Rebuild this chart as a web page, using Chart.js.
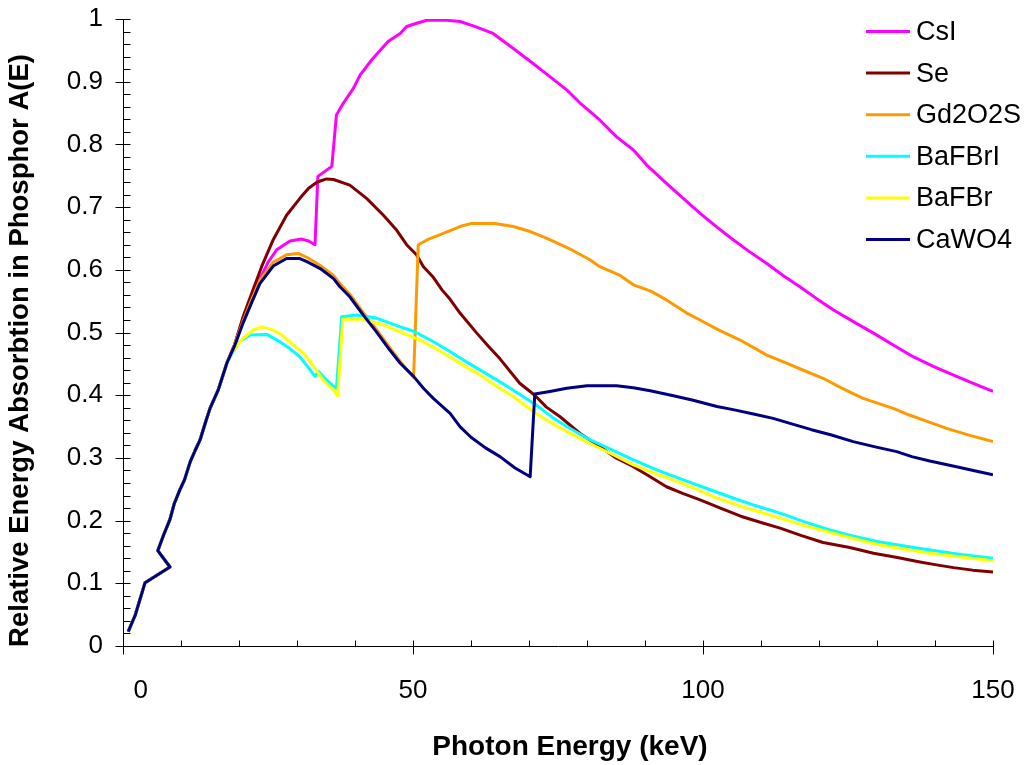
<!DOCTYPE html>
<html>
<head>
<meta charset="utf-8">
<script src="https://cdn.jsdelivr.net/npm/chart.js@4"></script>
<style>
  html, body { margin: 0; padding: 0; background: #ffffff; }
  #wrap { width: 1028px; height: 765px; }
</style>
</head>
<body>
<div id="wrap"><canvas id="chart" width="1028" height="765"></canvas></div>
<script>
// Relative energy absorption A(E) of detector phosphors vs photon energy (keV)
const seriesNames  = ['CsI', 'Se', 'Gd2O2S', 'BaFBrI', 'BaFBr', 'CaWO4'];
const seriesColors = ['#ff00ff', '#800000', '#ff9900', '#00ffff', '#ffff00', '#000080'];
const xTickValues  = [0, 50, 100, 150];
const xAxisTitle   = 'Photon Energy (keV)';
const yAxisTitle   = 'Relative Energy Absorbtion in Phosphor A(E)';

// Low-energy part shared by all phosphors
const lowEnergy = [[0.9,0.023],[2.1,0.049],[3.8,0.101],[8.1,0.126],[6.0,0.152],[7.0,0.177],[8.1,0.202],
  [8.8,0.226],[9.8,0.249],[10.6,0.265],[11.6,0.294],[12.4,0.311],[13.3,0.329],[14.2,0.356],[15.0,0.379],
  [16.4,0.408],[17.9,0.451]];

const csI = [[19.3,0.482],[20.7,0.522],[22.2,0.555],[23.6,0.585],[25.0,0.612],[26.5,0.632],[28.8,0.646],
  [30.8,0.649],[32.0,0.646],[33.1,0.640],[33.6,0.749],[36.0,0.765],[36.8,0.847],[38.0,0.866],[39.7,0.889],
  [40.9,0.911],[42.9,0.935],[45.7,0.964],[47.8,0.977],[48.9,0.988],[50.9,0.994],[52.4,0.998],[55.8,0.998],
  [58.1,0.996],[60.4,0.989],[63.8,0.977],[67.3,0.953],[70.7,0.929],[73.6,0.908],[76.5,0.887],[78.8,0.866],
  [82.2,0.839],[85.1,0.812],[88.0,0.791],[90.3,0.767],[93.7,0.738],[96.6,0.714],[99.5,0.690],[102.4,0.668],
  [105.2,0.648],[108.0,0.629],[111.0,0.610],[113.8,0.591],[116.7,0.573],[119.6,0.554],[122.5,0.536],
  [126.0,0.517],[129.4,0.499],[132.8,0.480],[136.3,0.461],[139.7,0.446],[143.2,0.432],[146.6,0.419],[150,0.406]];

const se = [[19.3,0.482],[20.7,0.525],[22.5,0.570],[23.9,0.605],[25.9,0.648],[28.2,0.687],[30.5,0.714],
  [32.0,0.730],[33.5,0.740],[35.1,0.745],[36.3,0.744],[39.1,0.735],[42.0,0.714],[44.9,0.687],[47.2,0.663],
  [48.9,0.640],[50.6,0.624],[51.8,0.605],[53.5,0.588],[55.0,0.568],[56.4,0.553],[58.1,0.531],[61.0,0.499],
  [63.0,0.478],[65.0,0.458],[68.4,0.419],[71.0,0.400],[73.0,0.381],[75.3,0.366],[78.8,0.339],[82.2,0.318],
  [85.0,0.300],[88.0,0.286],[90.9,0.270],[93.7,0.254],[96.6,0.243],[99.5,0.233],[103.0,0.220],[106.5,0.207],
  [110.0,0.197],[113.3,0.188],[117.0,0.176],[120.7,0.165],[125.3,0.157],[129.4,0.148],[133.5,0.141],
  [137.4,0.134],[140.5,0.129],[143.2,0.125],[146.5,0.121],[150,0.118]];

const gd2o2s = [[19.3,0.482],[20.7,0.518],[22.2,0.553],[23.6,0.583],[25.9,0.612],[28.2,0.624],[30.2,0.626],
  [31.7,0.620],[34.0,0.607],[36.3,0.591],[37.4,0.578],[39.1,0.561],[41.4,0.532],[43.7,0.505],[46.0,0.476],
  [47.8,0.454],[50.1,0.428],[50.9,0.640],[52.5,0.648],[54.7,0.656],[58.1,0.669],[60.1,0.674],[64.1,0.674],
  [67.3,0.669],[70.2,0.661],[73.1,0.650],[77.3,0.632],[80.5,0.616],[82.2,0.605],[85.7,0.591],[88.0,0.576],
  [91.0,0.566],[93.7,0.552],[97.2,0.531],[99.5,0.520],[102.5,0.505],[106.4,0.488],[111.0,0.464],[114.4,0.451],
  [117.0,0.441],[120.7,0.427],[124.0,0.411],[127.6,0.395],[132.8,0.379],[135.7,0.368],[139.0,0.357],
  [142.0,0.347],[146.0,0.336],[150,0.326]];

const baFBrI = [[18.9,0.468],[20.2,0.486],[21.9,0.496],[24.8,0.497],[27.1,0.485],[28.8,0.474],[30.5,0.461],
  [31.8,0.446],[33.1,0.430],[33.7,0.438],[35.1,0.424],[36.8,0.411],[37.7,0.525],[40.3,0.528],[43.7,0.523],
  [47.8,0.509],[50.1,0.502],[53.0,0.488],[55.8,0.473],[58.7,0.456],[61.6,0.440],[64.5,0.424],[67.3,0.408],
  [71.3,0.384],[74.0,0.365],[76.5,0.350],[80.5,0.329],[84.5,0.312],[88.0,0.297],[92.0,0.281],[96.6,0.265],
  [101.0,0.250],[105.2,0.236],[109.0,0.224],[113.3,0.212],[117.5,0.198],[121.9,0.185],[126.0,0.175],
  [130.5,0.166],[135.0,0.159],[139.1,0.153],[144.5,0.146],[150,0.140]];

const baFBr = [[18.9,0.470],[20.7,0.491],[22.5,0.504],[23.9,0.509],[25.6,0.505],[27.4,0.496],[29.4,0.480],
  [31.1,0.467],[32.8,0.447],[34.5,0.424],[36.3,0.408],[37.0,0.399],[37.9,0.521],[41.4,0.521],[44.9,0.512],
  [47.8,0.501],[51.2,0.488],[53.8,0.475],[56.4,0.461],[59.0,0.446],[61.6,0.432],[64.5,0.414],[67.3,0.398],
  [70.7,0.374],[74.0,0.355],[76.5,0.342],[80.5,0.323],[84.5,0.305],[88.0,0.289],[92.0,0.274],[96.6,0.259],
  [102.4,0.236],[107.5,0.220],[113.3,0.204],[117.5,0.192],[121.9,0.181],[126.0,0.171],[130.5,0.161],
  [135.0,0.154],[139.1,0.148],[144.5,0.142],[150,0.136]];

const caWO4 = [[19.3,0.480],[20.7,0.515],[22.2,0.548],[23.6,0.578],[25.9,0.606],[28.2,0.618],[30.5,0.618],
  [31.7,0.613],[34.0,0.602],[36.3,0.586],[37.4,0.573],[39.1,0.557],[41.4,0.528],[43.7,0.501],[46.0,0.472],
  [47.8,0.451],[50.1,0.430],[51.8,0.411],[53.5,0.395],[56.4,0.371],[58.1,0.350],[60.0,0.333],[62.5,0.316],
  [65.0,0.302],[67.6,0.284],[70.2,0.270],[71.0,0.402],[73.6,0.406],[76.5,0.411],[80.0,0.415],[85.1,0.415],
  [88.0,0.412],[90.9,0.407],[94.9,0.399],[98.3,0.392],[102.4,0.382],[105.2,0.377],[108.7,0.370],[112.1,0.363],
  [115.0,0.355],[118.7,0.345],[122.0,0.337],[125.9,0.326],[129.5,0.318],[133.4,0.310],[136.0,0.302],
  [139.1,0.295],[143.7,0.286],[147.0,0.279],[150,0.273]];

const seriesData = [csI, se, gd2o2s, baFBrI, baFBr, caWO4];

const FONT = '"Liberation Sans", Arial, sans-serif';

function toPoints(arr) {
  return lowEnergy.concat(arr).map(p => ({ x: p[0], y: p[1] }));
}

const datasets = seriesNames.map((name, i) => ({
  label: name,
  data: toPoints(seriesData[i]),
  borderColor: seriesColors[i],
  backgroundColor: seriesColors[i],
  borderWidth: 3,
  pointRadius: 0,
  tension: 0,
  fill: false,
  borderJoinStyle: 'round',
  order: seriesNames.length - i   // later series drawn on top
}));

// Tick marks, x tick labels, axis titles and the legend, placed through the scales
const axisDecor = {
  id: 'axisDecor',
  afterDraw(chart) {
    const ctx = chart.ctx;
    const xs = chart.scales.x, ys = chart.scales.y;
    const x0 = Math.round(xs.getPixelForValue(0)) + 0.5;
    const y0 = Math.round(ys.getPixelForValue(0)) + 0.5;
    ctx.save();
    ctx.strokeStyle = '#000';
    ctx.lineWidth = 1;
    ctx.beginPath();
    for (let i = 0; i <= 50; i++) {
      const py = Math.round(ys.getPixelForValue(i / 50)) + 0.5;
      const major = i % 5 === 0;
      ctx.moveTo(major ? x0 - 8 : x0, py);
      ctx.lineTo(x0 + 7, py);
    }
    for (let v = 0; v <= 150; v += 10) {
      const px = Math.round(xs.getPixelForValue(v)) + 0.5;
      const major = v % 50 === 0;
      ctx.moveTo(px, y0 - 6);
      ctx.lineTo(px, major ? y0 + 8 : y0);
    }
    ctx.stroke();

    // x tick labels (first label kept clear of the vertical axis)
    ctx.fillStyle = '#000';
    ctx.font = '26px ' + FONT;
    ctx.textAlign = 'center';
    ctx.textBaseline = 'top';
    xs.ticks.forEach(t => {
      const txt = String(t.value);
      const w = ctx.measureText(txt).width;
      let px = xs.getPixelForValue(t.value);
      if (px - w / 2 < x0 + 10) px = x0 + 10 + w / 2;
      ctx.fillText(txt, px, y0 + 31);
    });

    // axis titles
    ctx.textBaseline = 'middle';
    ctx.font = 'bold 28px ' + FONT;
    ctx.fillText(xAxisTitle, (xs.left + xs.right) / 2 + 12, 747);
    ctx.save();
    ctx.translate(20, (ys.top + ys.bottom) / 2 + 18);
    ctx.rotate(-Math.PI / 2);
    ctx.font = 'bold 27.5px ' + FONT;
    ctx.fillText(yAxisTitle, 0, 0);
    ctx.restore();

    // legend
    ctx.font = '27px ' + FONT;
    ctx.textAlign = 'left';
    ctx.textBaseline = 'alphabetic';
    chart.data.datasets.forEach((ds, i) => {
      const cy = 31.5 + i * 41.6;
      ctx.strokeStyle = ds.borderColor;
      ctx.lineWidth = 3;
      ctx.beginPath();
      ctx.moveTo(866, cy);
      ctx.lineTo(910, cy);
      ctx.stroke();
      ctx.fillStyle = '#000';
      ctx.fillText(ds.label, 916, cy + 8.5);
    });
    ctx.restore();
  }
};

new Chart(document.getElementById('chart'), {
  type: 'line',
  data: { datasets },
  options: {
    responsive: false,
    animation: false,
    devicePixelRatio: 1,
    layout: { padding: { left: 0, top: 19, right: 35, bottom: 0 } },
    plugins: { legend: { display: false }, tooltip: { enabled: false } },
    scales: {
      x: {
        type: 'linear',
        min: 0, max: 150,
        afterBuildTicks: s => { s.ticks = xTickValues.map(v => ({ value: v })); },
        afterFit: s => { s.height = 119; s.paddingLeft = 0; s.paddingRight = 0; },
        grid: { display: false, drawTicks: false },
        border: { display: true, color: '#000', width: 1 },
        ticks: { display: false },
        title: { display: false }
      },
      y: {
        type: 'linear',
        min: 0, max: 1,
        afterFit: s => { s.width = 123; s.paddingTop = 0; s.paddingBottom = 0; },
        grid: { display: false, drawTicks: false },
        border: { display: true, color: '#000', width: 1 },
        ticks: {
          stepSize: 0.1,
          color: '#000',
          padding: 20,
          font: { family: FONT, size: 26 },
          callback: v => String(Math.round(v * 10) / 10)
        },
        title: { display: false }
      }
    }
  },
  plugins: [axisDecor]
});
</script>
</body>
</html>
